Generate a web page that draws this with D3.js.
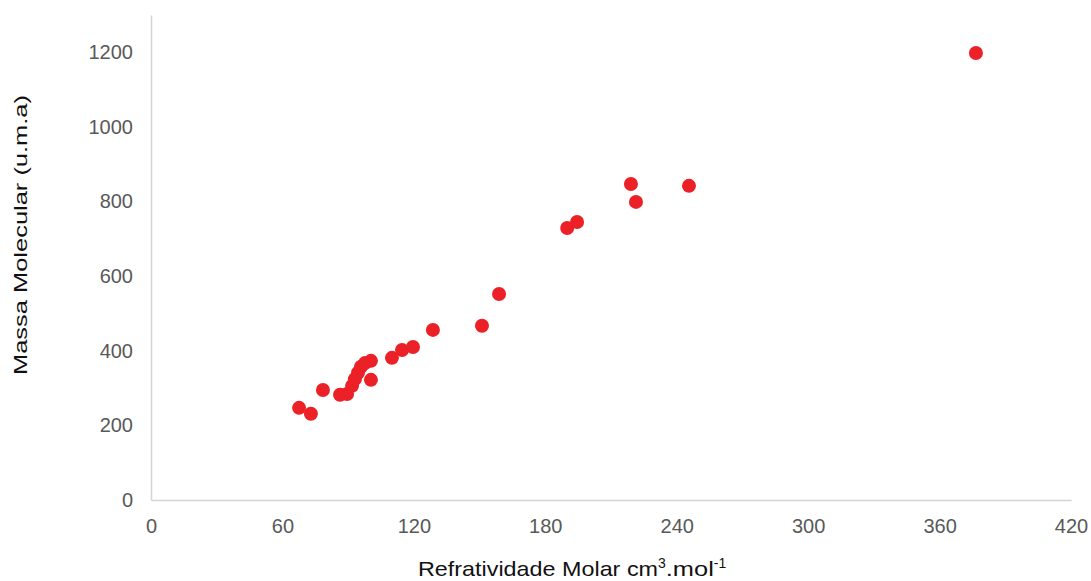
<!DOCTYPE html>
<html>
<head>
<meta charset="utf-8">
<script src="https://cdn.jsdelivr.net/npm/d3@7"></script>
<style>
  body { margin: 0; background: #fff; }
  svg { display: block; font-family: "Liberation Sans", Arial, sans-serif; }
</style>
</head>
<body>
<svg id="chart" width="1091" height="581"></svg>
<script>
// refratividade molar (cm3/mol) vs massa molecular (u.m.a)
const refratividade = [67.6, 73.0, 78.5, 86.3, 89.5, 91.8, 93.1, 94.5, 95.9, 97.7, 100.4, 100.4,
  110.0, 114.6, 119.6, 128.7, 151.1, 158.9, 190.0, 194.5, 219.1, 221.4, 245.6, 376.6];
const massa = [247, 231, 295, 282, 284, 306, 324, 341, 357, 367, 373, 322,
  381, 402, 410, 456, 467, 552, 729, 745, 847, 799, 842, 1198];
const xTicks = [0, 60, 120, 180, 240, 300, 360, 420];
const yTicks = [0, 200, 400, 600, 800, 1000, 1200];

const svg = d3.select('#chart');
const mLeft = 151, mRight = 1071, mTop = 15, mBottom = 500;

const x = d3.scaleLinear().domain([0, 420]).range([mLeft, mRight]);
const y = d3.scaleLinear().domain([0, 1300]).range([mBottom, mTop]);

const gx = svg.append('g')
    .attr('transform', `translate(0,${mBottom})`)
    .call(d3.axisBottom(x).tickValues(xTicks).tickSize(0).tickPadding(19).tickFormat(d3.format('d')));

const gy = svg.append('g')
    .attr('transform', `translate(${mLeft},0)`)
    .call(d3.axisLeft(y).tickValues(yTicks).tickSize(0).tickPadding(18).tickFormat(d3.format('d')));

[gx, gy].forEach(g => {
    g.select('.domain').attr('stroke', '#d4d4d4').attr('stroke-width', 1.5);
    g.selectAll('text')
        .attr('fill', '#595959')
        .style('font-size', '20px')
        .style('font-family', '"Liberation Sans", Arial, sans-serif');
});

svg.append('g')
    .selectAll('circle')
    .data(refratividade)
    .join('circle')
    .attr('cx', d => x(d))
    .attr('cy', (d, i) => y(massa[i]))
    .attr('r', 7)
    .attr('fill', '#ec2027');

// titulos dos eixos (texto do original é mais largo)
svg.append('text')
    .attr('transform', 'translate(27,235) rotate(-90)')
    .attr('text-anchor', 'middle')
    .attr('textLength', 280)
    .attr('lengthAdjust', 'spacingAndGlyphs')
    .style('font-size', '19px')
    .attr('fill', '#111')
    .text('Massa Molecular (u.m.a)');

const xt = svg.append('text')
    .attr('x', 418)
    .attr('y', 576)
    .style('font-size', '21px')
    .attr('fill', '#111');
xt.append('tspan').attr('textLength', 240).attr('lengthAdjust', 'spacingAndGlyphs').text('Refratividade Molar cm');
xt.append('tspan').attr('dy', -8).style('font-size', '14px').text('3');
xt.append('tspan').attr('dy', 8).attr('textLength', 48).attr('lengthAdjust', 'spacingAndGlyphs').text('.mol');
xt.append('tspan').attr('dy', -8).style('font-size', '14px').text('-1');
</script>
</body>
</html>
